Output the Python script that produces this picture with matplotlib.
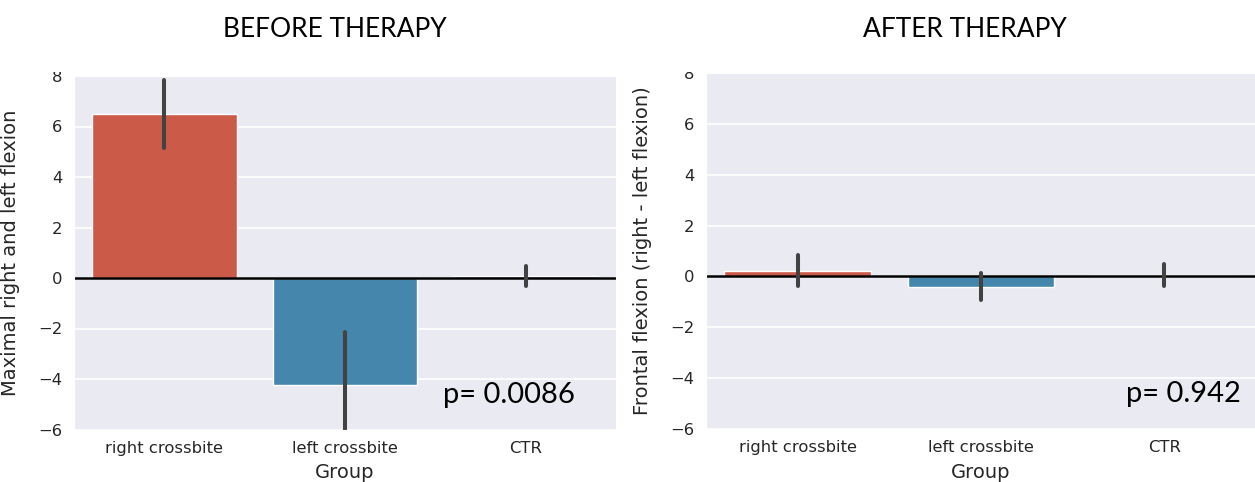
import matplotlib
matplotlib.use("Agg")
import matplotlib.pyplot as plt
import seaborn as sns
from matplotlib.patches import Rectangle

# Group labels and summary statistics (mean with confidence interval)
groups = ["right crossbite", "left crossbite", "CTR"]

before_mean = [6.50, -4.23, 0.08]
before_ci_low = [5.16, -6.50, -0.32]
before_ci_high = [7.84, -2.13, 0.49]

after_mean = [0.22, -0.43, 0.05]
after_ci_low = [-0.37, -0.94, -0.37]
after_ci_high = [0.86, 0.12, 0.47]

titles = ["BEFORE THERAPY", "AFTER THERAPY"]
ylabels = ["Maximal right and left flexion", "Frontal flexion (right - left flexion)"]
pvalues = ["p= 0.0086", "p= 0.942"]
yticks = [-6, -4, -2, 0, 2, 4, 6, 8]

sns.set_style("darkgrid")
plt.rcParams["font.family"] = ["DejaVu Sans"]

bar_colors = [sns.desaturate(c, 0.75) for c in ["#E24A33", "#348ABD", "#988ED5"]]

W, H = 1255, 482
fig = plt.figure(figsize=(W / 100, H / 100), dpi=100)


def box(x0, y0, x1, y1):
    return [x0 / W, 1 - y1 / H, (x1 - x0) / W, (y1 - y0) / H]


axes = [fig.add_axes(box(74, 76, 616, 429.5)),
        fig.add_axes(box(706, 73, 1256, 429))]

data = [(before_mean, before_ci_low, before_ci_high),
        (after_mean, after_ci_low, after_ci_high)]

for ax, (means, lo, hi), ylab, lab_x in zip(axes, data, ylabels, [20, 652]):
    x = list(range(len(groups)))
    ax.bar(x, means, width=0.8, color=bar_colors, zorder=1)
    ax.axhline(0, color="black", lw=1.8, zorder=1.5)
    ax.vlines(x, lo, hi, color=".26", lw=2.9, zorder=2, capstyle="round")
    ax.set_xlim(-0.5, len(groups) - 0.5)
    ax.set_ylim(-6, 8)
    ax.set_yticks(yticks)
    ax.set_xticks(x)
    ax.set_xticklabels(groups)
    ax.tick_params(axis="both", labelsize=11.8, colors=".15", length=0)
    ax.tick_params(axis="x", pad=8)
    ax.tick_params(axis="y", pad=8.5)
    ax.set_xlabel("Group", fontsize=14, color=".15")
    ax.set_ylabel(ylab, fontsize=14, color=".15")
    ax.grid(False, axis="x")
    ax.grid(True, axis="y", color="white", lw=1.2)
    ax.set_axisbelow(True)
    x0 = ax.get_position().x0 * W
    ax.yaxis.set_label_coords((lab_x - x0) / ax.get_position().width / W, 0.5)
    ax.xaxis.set_label_coords(0.5, -0.095)

# white band trimming the top of the panels
fig.patches.append(Rectangle((0, 1 - 72 / H), 1, 72 / H, transform=fig.transFigure,
                             facecolor="white", edgecolor="none", zorder=1))

for title, cx in zip(titles, [335, 965]):
    fig.text(cx / W, 1 - 37 / H, title, ha="center", va="baseline",
             fontsize=19, family="Lato", color="black", zorder=3)

for p, px, py in zip(pvalues, [443, 1126], [403, 402]):
    fig.text(px / W, 1 - py / H, p, ha="left", va="baseline",
             fontsize=21, family="Lato", color="black", zorder=3)

fig.savefig("out.png", dpi=100)
